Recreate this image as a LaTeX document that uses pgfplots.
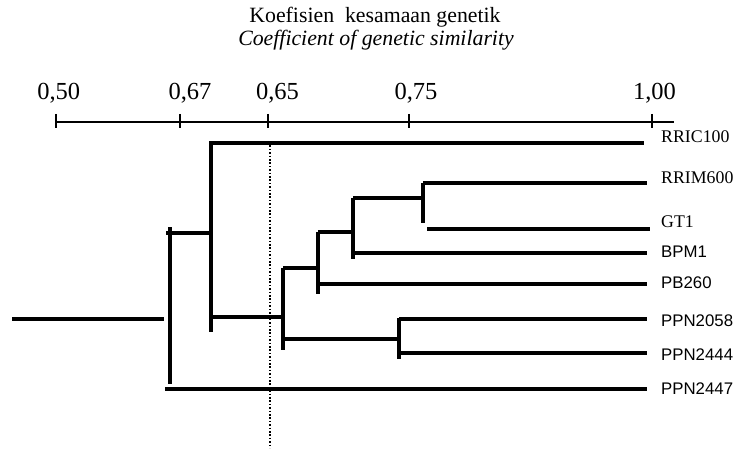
\documentclass[border=0pt]{standalone}
\usepackage{fontspec}
\setmainfont{Liberation Serif}
\newfontfamily\arial{Liberation Sans}
\usepackage{pgfplots}
\pgfplotsset{compat=1.18}
\begin{document}
\begin{tikzpicture}
\begin{axis}[
  width=744pt, height=448pt, scale only axis,
  xmin=0, xmax=744, ymin=0, ymax=448, y dir=reverse,
  axis lines=none, clip=false,
  seg/.style={black, line width=3.4pt, line cap=butt, mark=none},
  sc/.style={black, line width=1.7pt, mark=none},
]
% frame (invisible) for bounding box
\addplot[draw=none, mark=none] coordinates {(0,0) (744,448)};
% scale
\addplot[sc] coordinates {(56,122) (674,122)};
\addplot[sc] coordinates {(56,114) (56,128)};
\addplot[sc] coordinates {(180,114) (180,128)};
\addplot[sc] coordinates {(268,114) (268,128)};
\addplot[sc] coordinates {(409,114) (409,128)};
\addplot[sc] coordinates {(652,114) (652,128)};
% dotted cut line
\addplot[black, mark=none, line width=1.6pt, dash pattern=on 1.6pt off 1.8pt] coordinates {(270,142) (270,448)};
% dendrogram
\addplot[seg] coordinates {(12,319) (164,319)};
\addplot[seg] coordinates {(170,227) (170,384)};
\addplot[seg] coordinates {(166,233) (211,233)};
\addplot[seg] coordinates {(211,145) (211,332)};
\addplot[seg] coordinates {(209,143) (644,143)};
\addplot[seg] coordinates {(212,317) (283,317)};
\addplot[seg] coordinates {(283,268) (283,350)};
\addplot[seg] coordinates {(283,268) (318,268)};
\addplot[seg] coordinates {(318,232) (318,294)};
\addplot[seg] coordinates {(318,232) (353,232)};
\addplot[seg] coordinates {(353,198) (353,259)};
\addplot[seg] coordinates {(353,198) (423,198)};
\addplot[seg] coordinates {(423,183) (423,223)};
\addplot[seg] coordinates {(423,183) (647,183)};
\addplot[seg] coordinates {(427,229) (650,229)};
\addplot[seg] coordinates {(353,253) (647,253)};
\addplot[seg] coordinates {(318,284) (647,284)};
\addplot[seg] coordinates {(283,339) (399,339)};
\addplot[seg] coordinates {(399,318) (399,359)};
\addplot[seg] coordinates {(399,319) (647,319)};
\addplot[seg] coordinates {(399,353) (647,353)};
\addplot[seg] coordinates {(165,389) (647,389)};
% title
\node[anchor=base, inner sep=0pt, font=\fontsize{21.8}{24}\selectfont] at (axis cs:375,22.7) {Koefisien\ \ kesamaan genetik};
\node[anchor=base, inner sep=0pt, font=\fontsize{21.8}{24}\selectfont\itshape] at (axis cs:376,46) {Coefficient of genetic similarity};
% scale labels
\node[anchor=base, inner sep=0pt, font=\fontsize{24.5}{28}\selectfont] at (axis cs:58.7,100) {0,50};
\node[anchor=base, inner sep=0pt, font=\fontsize{24.5}{28}\selectfont] at (axis cs:190,100) {0,67};
\node[anchor=base, inner sep=0pt, font=\fontsize{24.5}{28}\selectfont] at (axis cs:277.5,100) {0,65};
\node[anchor=base, inner sep=0pt, font=\fontsize{24.5}{28}\selectfont] at (axis cs:416,100) {0,75};
\node[anchor=base, inner sep=0pt, font=\fontsize{24.5}{28}\selectfont] at (axis cs:654.5,100) {1,00};
% leaf labels
\node[anchor=base west, inner sep=0pt, font=\fontsize{17.8}{20}\selectfont] at (axis cs:661,143) {RRIC100};
\node[anchor=base west, inner sep=0pt, font=\fontsize{17.8}{20}\selectfont] at (axis cs:661,184) {RRIM600};
\node[anchor=base west, inner sep=0pt, font=\fontsize{17.8}{20}\selectfont] at (axis cs:661,227) {GT1};
\node[anchor=base west, inner sep=0pt, font=\arial\fontsize{16.8}{20}\selectfont] at (axis cs:661,257) {BPM1};
\node[anchor=base west, inner sep=0pt, font=\arial\fontsize{16.8}{20}\selectfont] at (axis cs:661,288.7) {PB260};
\node[anchor=base west, inner sep=0pt, font=\arial\fontsize{16.8}{20}\selectfont] at (axis cs:661,326) {PPN2058};
\node[anchor=base west, inner sep=0pt, font=\arial\fontsize{16.8}{20}\selectfont] at (axis cs:661,360) {PPN2444};
\node[anchor=base west, inner sep=0pt, font=\arial\fontsize{16.8}{20}\selectfont] at (axis cs:661,394) {PPN2447};
\end{axis}
\end{tikzpicture}
\end{document}
